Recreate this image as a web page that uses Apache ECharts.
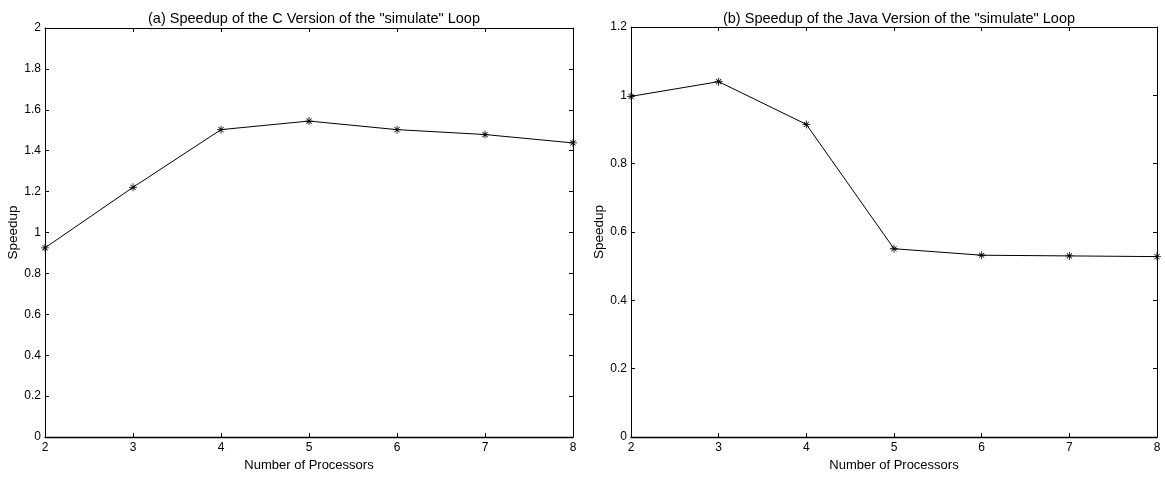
<!DOCTYPE html>
<html>
<head>
<meta charset="utf-8">
<script src="https://cdn.jsdelivr.net/npm/echarts@6/dist/echarts.min.js"></script>
<style>html,body{margin:0;padding:0;background:#fff}#c{width:1165px;height:477px}</style>
</head>
<body>
<div id="c"></div>
<script>
var processors = [2, 3, 4, 5, 6, 7, 8];
var speedupC = [0.925, 1.221, 1.503, 1.545, 1.503, 1.479, 1.438];
var speedupJava = [0.997, 1.040, 0.915, 0.551, 0.532, 0.530, 0.528];
var titleC = '(a) Speedup of the C Version of the "simulate" Loop';
var titleJava = '(b) Speedup of the Java Version of the "simulate" Loop';
var xName = 'Number of Processors';
var yName = 'Speedup';

var FONT = '"Liberation Sans", Arial, sans-serif';
var star = 'path://M9,0 L11,0 L11,20 L9,20 Z M0,9 L20,9 L20,11 L0,11 Z M2.9,4.3 L4.3,2.9 L17.1,15.7 L15.7,17.1 Z M15.7,2.9 L17.1,4.3 L4.3,17.1 L2.9,15.7 Z';

function pairs(xs, ys) { return xs.map(function (x, i) { return [x, ys[i]]; }); }

var lineStyle = { color: '#000', width: 1 };
function mainX(gi) {
  return {
    type: 'value', gridIndex: gi, min: 2, max: 8, interval: 1, position: 'bottom',
    name: xName, nameLocation: 'middle', nameGap: 22,
    nameTextStyle: { color: '#000', fontFamily: FONT, fontSize: 13 },
    axisLine: { show: true, onZero: false, lineStyle: { color: '#000', width: 1.3 } },
    axisTick: { show: true, inside: true, length: 4, lineStyle: lineStyle },
    axisLabel: { color: '#000', fontFamily: FONT, fontSize: 12, margin: 5 },
    splitLine: { show: false }
  };
}
function topX(gi) {
  return {
    type: 'value', gridIndex: gi, min: 2, max: 8, interval: 1, position: 'top',
    axisLine: { show: true, onZero: false, lineStyle: lineStyle },
    axisTick: { show: true, inside: true, length: 4, lineStyle: lineStyle },
    axisLabel: { show: false }, splitLine: { show: false }
  };
}
function mainY(gi, max, gap) {
  return {
    type: 'value', gridIndex: gi, min: 0, max: max, interval: 0.2, position: 'left',
    name: yName, nameLocation: 'middle', nameGap: gap, nameRotate: 90,
    nameTextStyle: { color: '#000', fontFamily: FONT, fontSize: 13.5 },
    axisLine: { show: true, onZero: false, lineStyle: lineStyle },
    axisTick: { show: true, inside: true, length: 4, lineStyle: lineStyle },
    axisLabel: { color: '#000', fontFamily: FONT, fontSize: 12, margin: 4 },
    splitLine: { show: false }
  };
}
function rightY(gi, max) {
  return {
    type: 'value', gridIndex: gi, min: 0, max: max, interval: 0.2, position: 'right',
    axisLine: { show: true, onZero: false, lineStyle: lineStyle },
    axisTick: { show: true, inside: true, length: 4, lineStyle: lineStyle },
    axisLabel: { show: false }, splitLine: { show: false }
  };
}

var chart = echarts.init(document.getElementById('c'), null, { renderer: 'canvas' });
chart.setOption({
  backgroundColor: '#fff',
  animation: false,
  title: [
    { text: titleC, left: 309, top: 6, textAlign: 'center',
      textStyle: { color: '#000', fontFamily: FONT, fontSize: 14.5, fontWeight: 'normal' } },
    { text: titleJava, left: 894, top: 6, textAlign: 'center',
      textStyle: { color: '#000', fontFamily: FONT, fontSize: 14.5, fontWeight: 'normal' } }
  ],
  grid: [
    { left: 45, top: 28, width: 528, height: 415 },
    { left: 631, top: 27, width: 526, height: 416 }
  ],
  xAxis: [mainX(0), topX(0), mainX(1), topX(1)],
  yAxis: [mainY(0, 2, 20), rightY(0, 2), mainY(1, 1.2, 20), rightY(1, 1.2)],
  series: [
    { type: 'line', xAxisIndex: 0, yAxisIndex: 0, data: pairs(processors, speedupC),
      symbol: star, symbolSize: 8, showAllSymbol: true,
      lineStyle: { color: '#000', width: 1 }, itemStyle: { color: '#000' } },
    { type: 'line', xAxisIndex: 2, yAxisIndex: 2, data: pairs(processors, speedupJava),
      symbol: star, symbolSize: 8, showAllSymbol: true,
      lineStyle: { color: '#000', width: 1 }, itemStyle: { color: '#000' } }
  ]
});
</script>
</body>
</html>
